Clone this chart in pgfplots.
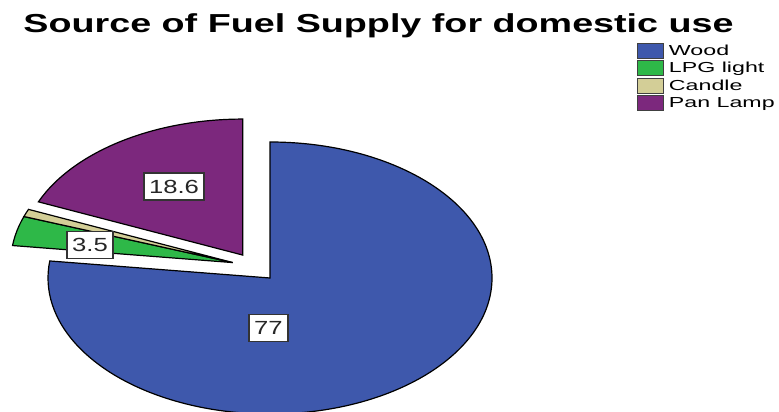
\documentclass[border=0pt]{standalone}
\usepackage{fontspec}
\setmainfont{Liberation Sans}
\usepackage{graphicx}
\usepackage{pgfplots}
\usepackage{pgfplotstable}
\pgfplotsset{compat=1.18}
\definecolor{piecol0}{HTML}{3E58AC}
\definecolor{piecol1}{HTML}{2EB848}
\definecolor{piecol2}{HTML}{D3CE97}
\definecolor{piecol3}{HTML}{7C287D}
\pgfplotstableread{
label value ox oy
Wood 77 0 0
LPG 3.5 -0.1676 0.1133
Candle 0.9 -0.1676 0.1133
Pan 18.6 -0.1230 0.1686
}\piedata
\begin{document}
\pgfmathsetmacro\cum{90}%
\pgfplotsforeachungrouped \i in {0,1,2,3}{%
  \pgfplotstablegetelem{\i}{value}\of\piedata \let\v\pgfplotsretval
  \pgfplotstablegetelem{\i}{ox}\of\piedata \let\ox\pgfplotsretval
  \pgfplotstablegetelem{\i}{oy}\of\piedata \let\oy\pgfplotsretval
  \pgfmathsetmacro\e{\cum-3.6*\v}%
  \pgfmathsetmacro\sx{\ox+cos(\cum)}%
  \pgfmathsetmacro\sy{\oy+sin(\cum)}%
  \expandafter\xdef\csname pS\i\endcsname{\cum}%
  \expandafter\xdef\csname pE\i\endcsname{\e}%
  \expandafter\xdef\csname pOX\i\endcsname{\ox}%
  \expandafter\xdef\csname pOY\i\endcsname{\oy}%
  \expandafter\xdef\csname pSX\i\endcsname{\sx}%
  \expandafter\xdef\csname pSY\i\endcsname{\sy}%
  \global\let\cum\e
}%
\begin{tikzpicture}
\begin{axis}[
  x=222pt, y=136pt,
  xmin=-1.21622, xmax=2.29279,
  ymin=-0.98529, ymax=2.04412,
  hide axis,
  clip=true,
  legend style={at={(rel axis cs:0.8173,0.8985)}, anchor=north west,
    draw=none, fill=none, inner sep=0pt, row sep=0pt, column sep=5pt,
    font=\fontsize{14.5}{16}\selectfont,
    nodes={inner sep=0pt, minimum height=17.5pt}},
  legend cell align=left,
  legend image code/.code={\draw[line width=1.1pt, draw=black!75, #1] (0pt,-7.5pt) rectangle (26pt,7.5pt);},
]
\addlegendimage{fill=piecol0}\addlegendentry{\scalebox{1.6}[1]{Wood}}
\addlegendimage{fill=piecol1}\addlegendentry{\scalebox{1.6}[1]{LPG light}}
\addlegendimage{fill=piecol2}\addlegendentry{\scalebox{1.6}[1]{Candle}}
\addlegendimage{fill=piecol3}\addlegendentry{\scalebox{1.6}[1]{Pan Lamp}}
\pgfplotsinvokeforeach{0,...,3}{
  \fill[draw=black, line width=1.2pt, line join=miter, fill=piecol#1]
    (axis cs:\csname pOX#1\endcsname,\csname pOY#1\endcsname) --
    (axis cs:\csname pSX#1\endcsname,\csname pSY#1\endcsname)
    arc[start angle=\csname pS#1\endcsname, end angle=\csname pE#1\endcsname, x radius=222pt, y radius=136pt] -- cycle;
}
\tikzset{lab/.style={draw=black!80, line width=1.6pt, fill=white, inner xsep=5pt, inner ysep=6.5pt,
  text height=13.8pt, text depth=0pt, font=\fontsize{19}{20}\selectfont, text=black!85}}
\node[lab] at (axis cs:-0.4324,0.6728) {\scalebox{1.35}[1]{18.6}};
\node[lab] at (axis cs:-0.0068,-0.3676) {\scalebox{1.35}[1]{77}};
\node[lab] at (axis cs:-0.8108,0.2426) {\scalebox{1.35}[1]{3.5}};
\node[anchor=base, font=\fontsize{26}{30}\selectfont\bfseries] at (rel axis cs:0.4859,0.9199)
  {\scalebox{1.45}[1]{Source of Fuel Supply for domestic use}};
\end{axis}
\pgfresetboundingbox
\path (current axis.south west) rectangle (current axis.north east);
\end{tikzpicture}
\end{document}
